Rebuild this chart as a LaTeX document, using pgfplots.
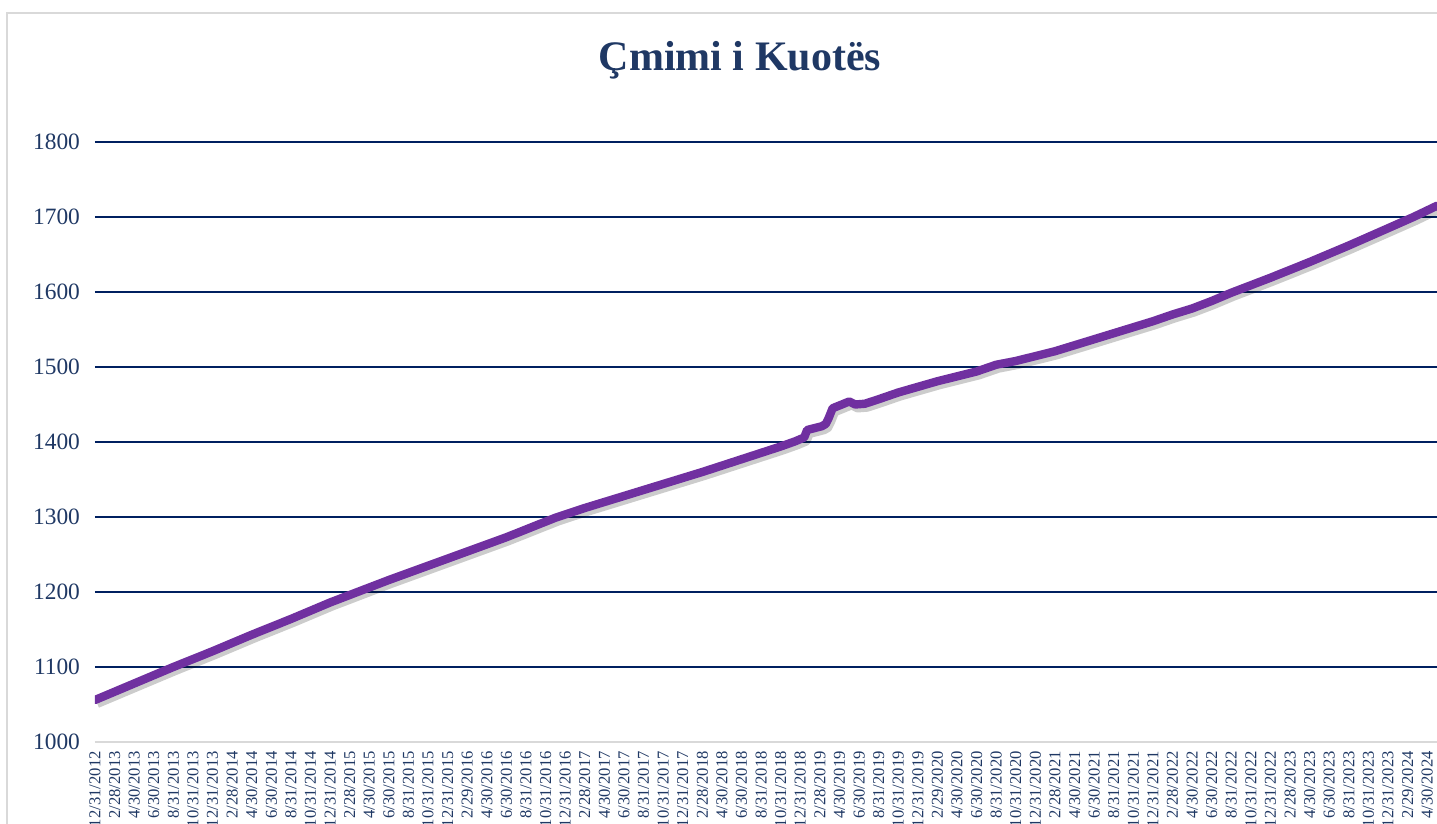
\documentclass[border=0pt]{standalone}
\usepackage{pgfplots}
\pgfplotsset{compat=1.18}
\usepackage{fontspec}
\setmainfont{Liberation Serif}
\definecolor{navy}{HTML}{1F3864}
\definecolor{gridnavy}{HTML}{002060}
\definecolor{lpurple}{HTML}{7030A0}
\definecolor{lgray}{HTML}{D9D9D9}
\begin{document}
\begin{tikzpicture}
\useasboundingbox (-47.5pt,-41pt) rectangle (671pt,371pt);
\draw[lgray, line width=0.8pt] (-44pt,-45pt) -- (-44pt,364.5pt) -- (680pt,364.5pt);
\begin{axis}[
  at={(0pt,0pt)}, anchor=south west,
  scale only axis, width=671pt, height=300pt,
  xmin=0, xmax=137, ymin=1000, ymax=1800,
  clip=true,
  axis x line*=bottom, axis y line*=left,
  x axis line style={-, draw=lgray, line width=1.2pt},
  y axis line style={draw=none},
  tick style={draw=none},
  ytick={1100,1200,...,1800},
  extra y ticks={1000}, extra y tick style={grid=none},
  ymajorgrids, major grid style={gridnavy, line width=1pt},
  /pgf/number format/1000 sep={},
  /pgf/number format/assume math mode=true,
  yticklabel style={font=\fontsize{11.7}{13}\selectfont, text=navy, xshift=-4pt},
  xtick={0,2,...,136},
  xticklabels={12/31/2012,
   2/28/2013,4/30/2013,6/30/2013,8/31/2013,10/31/2013,12/31/2013,
   2/28/2014,4/30/2014,6/30/2014,8/31/2014,10/31/2014,12/31/2014,
   2/28/2015,4/30/2015,6/30/2015,8/31/2015,10/31/2015,12/31/2015,
   2/29/2016,4/30/2016,6/30/2016,8/31/2016,10/31/2016,12/31/2016,
   2/28/2017,4/30/2017,6/30/2017,8/31/2017,10/31/2017,12/31/2017,
   2/28/2018,4/30/2018,6/30/2018,8/31/2018,10/31/2018,12/31/2018,
   2/28/2019,4/30/2019,6/30/2019,8/31/2019,10/31/2019,12/31/2019,
   2/29/2020,4/30/2020,6/30/2020,8/31/2020,10/31/2020,12/31/2020,
   2/28/2021,4/30/2021,6/30/2021,8/31/2021,10/31/2021,12/31/2021,
   2/28/2022,4/30/2022,6/30/2022,8/31/2022,10/31/2022,12/31/2022,
   2/28/2023,4/30/2023,6/30/2023,8/31/2023,10/31/2023,12/31/2023,
   2/29/2024,4/30/2024},
  xticklabel shift=3.5pt,
  xticklabel style={rotate=90, anchor=east, font=\fontsize{8.3}{9}\selectfont, text=navy, inner sep=1pt},
]
\addplot[black, opacity=0.2, line width=4pt, line join=round, xshift=1.2pt, yshift=-2pt, forget plot] table {
0 1056
4 1078
8 1100
12 1121
16 1143
20 1164
24 1186
27 1201
30 1216
34 1235
38 1254
42 1273
47 1299
50 1312
54 1328
58 1344
62 1360
66 1377
70 1394
71.5 1401
72.4 1406
72.7 1416
74.2 1421
74.6 1424
74.9 1432
75.3 1445
77.0 1454
77.6 1450
78.6 1451
80 1457
82 1466
86 1481
90 1494
92 1503
94 1508
98 1521
102 1537
106 1553
108 1561
110 1570
112 1578
114 1588
116 1599
120 1619
124 1640
128 1662
132 1685
134.6 1700
137 1715
};
\addplot[lpurple, line width=4.2pt, line join=round, line cap=round] table {
0 1056
4 1078
8 1100
12 1121
16 1143
20 1164
24 1186
27 1201
30 1216
34 1235
38 1254
42 1273
47 1299
50 1312
54 1328
58 1344
62 1360
66 1377
70 1394
71.5 1401
72.4 1406
72.7 1416
74.2 1421
74.6 1424
74.9 1432
75.3 1445
77.0 1454
77.6 1450
78.6 1451
80 1457
82 1466
86 1481
90 1494
92 1503
94 1508
98 1521
102 1537
106 1553
108 1561
110 1570
112 1578
114 1588
116 1599
120 1619
124 1640
128 1662
132 1685
134.6 1700
137 1715
};
\end{axis}
\node[anchor=base, text=navy, font=\fontsize{21}{24}\selectfont\bfseries] at (322.5pt,335.5pt) {Çmimi i Kuotës};
\end{tikzpicture}
\end{document}
